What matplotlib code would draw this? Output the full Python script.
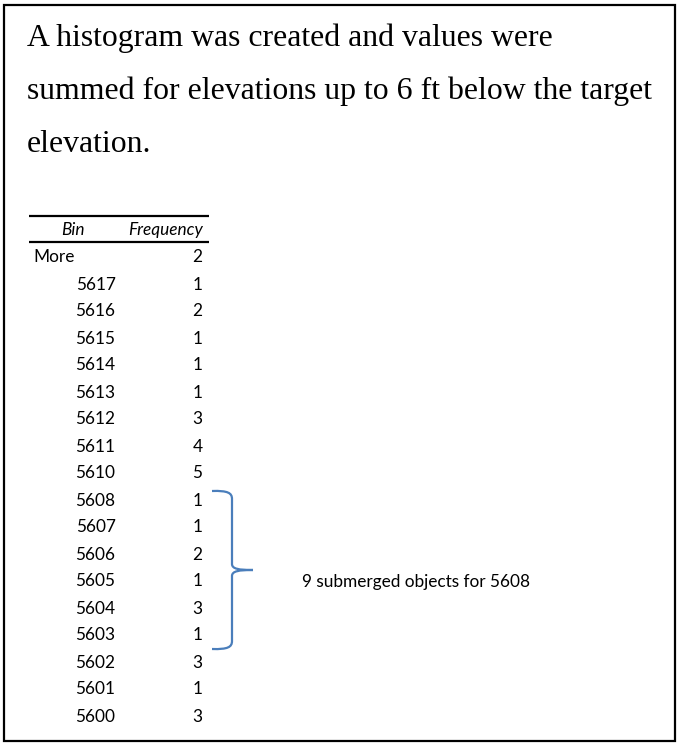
import matplotlib
matplotlib.use("Agg")
import matplotlib.pyplot as plt
from matplotlib.path import Path
from matplotlib.patches import PathPatch, Rectangle

# ---- data ----
title_lines = [
    "A histogram was created and values were",
    "summed for elevations up to 6 ft below the target",
    "elevation.",
]
header = ["Bin", "Frequency"]
bins = ["More", "5617", "5616", "5615", "5614", "5613", "5612", "5611", "5610",
        "5608", "5607", "5606", "5605", "5604", "5603", "5602", "5601", "5600"]
freqs = [2, 1, 2, 1, 1, 1, 3, 4, 5, 1, 1, 2, 1, 3, 1, 3, 1, 3]
note = "9 submerged objects for 5608"
bracket_first, bracket_last = "5608", "5603"

W, H = 677, 744
fig = plt.figure(figsize=(W / 100, H / 100), dpi=100)
ax = fig.add_axes([0, 0, 1, 1])
ax.set_xlim(0, W)
ax.set_ylim(H, 0)
ax.axis("off")

# outer frame
ax.add_patch(Rectangle((4, 5), 671, 736, fill=False, edgecolor="black", lw=1.6))

renderer = fig.canvas.get_renderer()

def fit_size(text, family, target_px, style="normal", base=20):
    t = ax.text(0, 0, text, fontsize=base, family=family, style=style)
    w = t.get_window_extent(renderer).width
    t.remove()
    return base * target_px / w

serif = ["Liberation Serif", "DejaVu Serif"]
sans = ["Lato", "DejaVu Sans"]

tsize = fit_size(title_lines[1], serif, 625)
baselines = [46, 99, 152]
for line, yb in zip(title_lines, baselines):
    ax.text(27, yb, line, fontsize=tsize, family=serif, va="baseline", ha="left", color="black")

bsize = fit_size(note, sans, 229)

# table rules
ax.plot([29, 209], [215.7, 215.7], color="black", lw=1.6, solid_capstyle="butt")
ax.plot([29, 209], [242, 242], color="black", lw=1.6, solid_capstyle="butt")
ax.text(72.5, 230, header[0], fontsize=bsize, family=sans, style="italic", ha="center", va="center")
ax.text(202.5, 230, header[1], fontsize=bsize, family=sans, style="italic", ha="right", va="center")

row0, step = 257.5, 27.0
for i, (b, f) in enumerate(zip(bins, freqs)):
    y = row0 + i * step
    if b.isdigit():
        ax.text(115.5, y, b, fontsize=bsize, family=sans, ha="right", va="center")
    else:
        ax.text(33, y, b, fontsize=bsize, family=sans, ha="left", va="center")
    ax.text(202.5, y, str(f), fontsize=bsize, family=sans, ha="right", va="center")

# bracket
i0 = bins.index(bracket_first)
i1 = bins.index(bracket_last)
top = row0 + i0 * step - 9.5
bot = row0 + i1 * step + 13.5
mid = (top + bot) / 2
xl, xv, xp = 212, 232, 253
verts = [
    (xl, top), (xv - 4, top - 0.5), (xv, top + 2), (xv, top + 8),
    (xv, mid - 6),
    (xv, mid - 1), (xp - 14, mid), (xp, mid),
    (xp - 14, mid), (xv, mid + 1), (xv, mid + 6),
    (xv, bot - 8),
    (xv, bot - 2), (xv - 4, bot + 0.5), (xl, bot),
]
codes = [Path.MOVETO, Path.CURVE4, Path.CURVE4, Path.CURVE4,
         Path.LINETO,
         Path.CURVE4, Path.CURVE4, Path.CURVE4,
         Path.CURVE4, Path.CURVE4, Path.CURVE4,
         Path.LINETO,
         Path.CURVE4, Path.CURVE4, Path.CURVE4]
ax.add_patch(PathPatch(Path(verts, codes), fill=False, edgecolor="#4a7ebb", lw=1.6))

ax.text(302, 582, note, fontsize=bsize, family=sans, ha="left", va="center")

fig.savefig("out.png", dpi=100)
